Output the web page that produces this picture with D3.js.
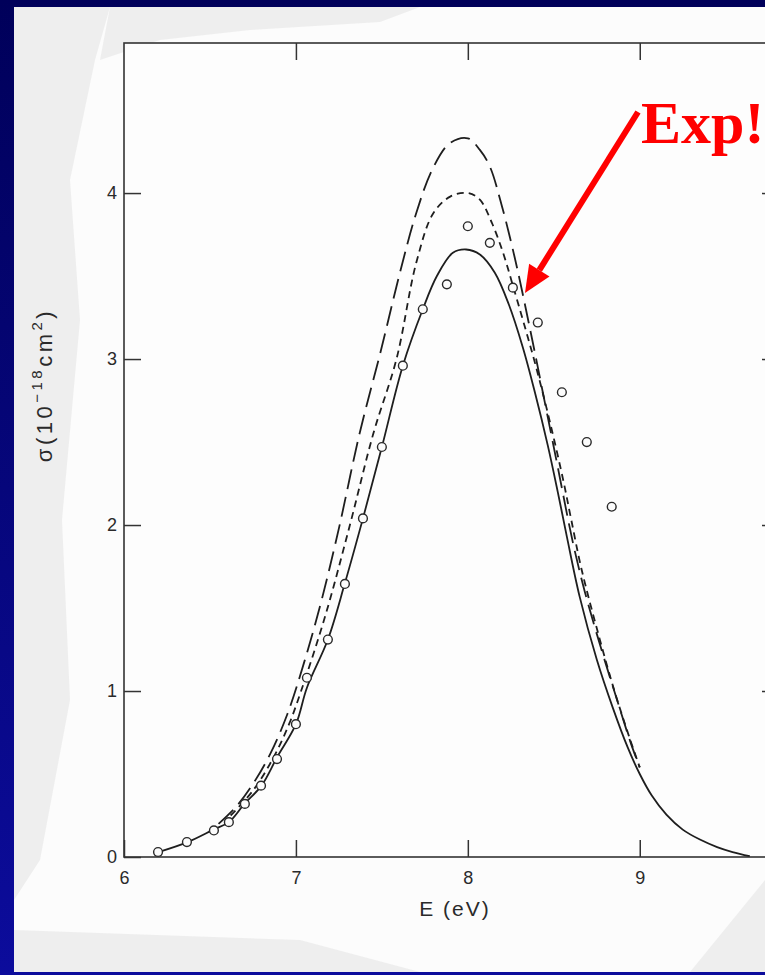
<!DOCTYPE html>
<html>
<head>
<meta charset="utf-8">
<script src="https://cdn.jsdelivr.net/npm/d3@7"></script>
<style>
  html, body { margin: 0; padding: 0; background: #00005a; }
  svg { display: block; }
  .tick text { font-family: "Liberation Sans", Arial, sans-serif; fill: #2a2a2a; }
</style>
</head>
<body>
<div id="main"></div>
<script>
// measured data points (circles)
var expE = [6.198, 6.366, 6.523, 6.61, 6.703, 6.797, 6.89, 7.0, 7.064, 7.186, 7.285, 7.39, 7.50, 7.622, 7.738, 7.878, 8.0, 8.128, 8.262, 8.407, 8.547, 8.692, 8.837];
var expSigma = [0.03, 0.09, 0.16, 0.21, 0.32, 0.43, 0.59, 0.80, 1.08, 1.31, 1.645, 2.04, 2.47, 2.96, 3.30, 3.45, 3.80, 3.70, 3.43, 3.22, 2.80, 2.50, 2.11];

// solid curve
var solidE = [6.2, 6.37, 6.52, 6.61, 6.70, 6.80, 6.89, 7.0, 7.064, 7.186, 7.285, 7.39, 7.50, 7.622, 7.738, 7.82, 7.913, 7.99, 8.07, 8.157, 8.238, 8.32, 8.39, 8.465, 8.523, 8.576, 8.65, 8.75, 8.843, 8.93, 9.0, 9.07, 9.155, 9.25, 9.35, 9.45, 9.54, 9.64];
var solidSigma = [0.03, 0.09, 0.165, 0.21, 0.32, 0.43, 0.60, 0.80, 1.02, 1.31, 1.65, 2.04, 2.47, 2.96, 3.30, 3.50, 3.64, 3.66, 3.63, 3.52, 3.33, 3.07, 2.80, 2.48, 2.20, 1.93, 1.57, 1.19, 0.90, 0.66, 0.50, 0.37, 0.255, 0.165, 0.105, 0.06, 0.03, 0.005];

// short-dashed curve
var shortE = [6.62, 6.75, 6.87, 6.96, 7.03, 7.17, 7.314, 7.45, 7.585, 7.70, 7.80, 7.90, 8.0, 8.07, 8.14, 8.205, 8.26, 8.33, 8.40, 8.48, 8.555, 8.60, 8.66, 8.76, 8.85, 8.94, 9.0];
var shortSigma = [0.25, 0.40, 0.60, 0.80, 1.0, 1.45, 2.0, 2.55, 3.0, 3.58, 3.88, 3.98, 4.0, 3.96, 3.82, 3.64, 3.45, 3.20, 2.94, 2.61, 2.27, 2.04, 1.74, 1.34, 1.01, 0.72, 0.54];

// long-dashed curve
var longE = [6.55, 6.65, 6.75, 6.85, 6.95, 7.05, 7.15, 7.25, 7.37, 7.494, 7.605, 7.70, 7.797, 7.895, 8.0, 8.07, 8.128, 8.196, 8.273, 8.36, 8.465, 8.523, 8.61, 8.68, 8.78, 8.87, 8.95, 9.0];
var longSigma = [0.2, 0.30, 0.44, 0.62, 0.86, 1.18, 1.55, 1.98, 2.55, 3.05, 3.52, 3.88, 4.15, 4.30, 4.33, 4.26, 4.16, 3.93, 3.61, 3.19, 2.65, 2.35, 1.90, 1.60, 1.24, 0.94, 0.68, 0.54];

var xTicks = [6, 7, 8, 9];
var yTicks = [0, 1, 2, 3, 4];

var w = 765;
var h = 975;

var svg = d3.select("#main").append("svg").
attr("width", w).
attr("height", h);

var defs = svg.append("defs");
var grad = defs.append("linearGradient").
attr("id", "frame").
attr("x1", 0).attr("y1", 0).attr("x2", 0).attr("y2", 1);
grad.append("stop").attr("offset", "0%").attr("stop-color", "#00005a");
grad.append("stop").attr("offset", "100%").attr("stop-color", "#0c0c9c");

// blue slide background and the scanned page
svg.append("rect").attr("width", w).attr("height", h).attr("fill", "url(#frame)");
svg.append("rect").
attr("x", 14).attr("y", 7).
attr("width", w - 14).attr("height", 965).
attr("fill", "#fcfcfc");

// greyish scan smudges
var smudges = [
  [[14, 7], [110, 7], [95, 60], [70, 180], [80, 320], [62, 520], [70, 700], [40, 860], [14, 900]],
  [[110, 7], [420, 7], [380, 22], [250, 30], [160, 40], [100, 60]],
  [[14, 930], [300, 940], [420, 972], [14, 972]],
  [[690, 972], [765, 880], [765, 972]]
];
svg.selectAll(".smudge").
data(smudges).
enter().
append("polygon").
attr("class", "smudge").
attr("points", function (d) {return d.map(function (p) {return p.join(",");}).join(" ");}).
attr("fill", "#e8e8e8").
attr("opacity", 0.7);

var x = d3.scaleLinear().domain([6, 9.81]).range([124, 779]);
var y = d3.scaleLinear().domain([0, 4.904]).range([857, 43]);

// plot frame
svg.append("rect").
attr("x", x(6)).attr("y", y(4.904)).
attr("width", x(9.81) - x(6)).attr("height", y(0) - y(4.904)).
attr("fill", "#fdfdfd").
attr("stroke", "#333").
attr("stroke-width", 1.6);

var axBottom = svg.append("g").
attr("transform", "translate(0," + y(0) + ")").
call(d3.axisBottom(x).tickValues(xTicks).tickSizeInner(-17).tickSizeOuter(0).tickPadding(14).tickFormat(d3.format("d")));
var axLeft = svg.append("g").
attr("transform", "translate(" + x(6) + ",0)").
call(d3.axisLeft(y).tickValues(yTicks).tickSizeInner(-17).tickSizeOuter(0).tickPadding(7).tickFormat(d3.format("d")));
var axTop = svg.append("g").
attr("transform", "translate(0," + y(4.904) + ")").
call(d3.axisTop(x).tickValues([7, 8, 9]).tickSizeInner(-17).tickSizeOuter(0).tickFormat(""));
var axRight = svg.append("g").
attr("transform", "translate(" + x(9.81) + ",0)").
call(d3.axisRight(y).tickValues([1, 2, 3, 4]).tickSizeInner(-17).tickSizeOuter(0).tickFormat(""));

[axBottom, axLeft, axTop, axRight].forEach(function (g) {
  g.select(".domain").remove();
  g.selectAll(".tick line").attr("stroke", "#333").attr("stroke-width", 1.5);
});
axBottom.selectAll(".tick text").attr("font-size", 18);
axLeft.selectAll(".tick text").attr("font-size", 18);

// curves
var line = d3.line().
x(function (d) {return x(d[0]);}).
y(function (d) {return y(d[1]);}).
curve(d3.curveCatmullRom.alpha(0.5));

function pairs(a, b) {return a.map(function (v, i) {return [v, b[i]];});}

svg.append("path").
datum(pairs(solidE, solidSigma)).
attr("d", line).
attr("fill", "none").
attr("stroke", "#1e1e1e").
attr("stroke-width", 1.8);

svg.append("path").
datum(pairs(shortE, shortSigma)).
attr("d", line).
attr("fill", "none").
attr("stroke", "#1e1e1e").
attr("stroke-width", 1.8).
attr("stroke-dasharray", "7,5");

svg.append("path").
datum(pairs(longE, longSigma)).
attr("d", line).
attr("fill", "none").
attr("stroke", "#1e1e1e").
attr("stroke-width", 1.8).
attr("stroke-dasharray", "20,8");

svg.selectAll(".pt").
data(pairs(expE, expSigma)).
enter().
append("circle").
attr("class", "pt").
attr("cx", function (d) {return x(d[0]);}).
attr("cy", function (d) {return y(d[1]);}).
attr("r", 4.4).
attr("fill", "#fcfcfc").
attr("stroke", "#2a2a2a").
attr("stroke-width", 1.4);

// axis titles
svg.append("text").
attr("x", 455).
attr("y", 916).
attr("text-anchor", "middle").
attr("font-family", "Liberation Sans, Arial, sans-serif").
attr("font-size", 21).
attr("letter-spacing", 2).
attr("fill", "#2a2a2a").
text("E (eV)");

var ylab = svg.append("text").
attr("transform", "translate(52,385) rotate(-90)").
attr("text-anchor", "middle").
attr("font-family", "Liberation Sans, Arial, sans-serif").
attr("font-size", 22).
attr("letter-spacing", 3.5).
attr("fill", "#2a2a2a");
ylab.append("tspan").text("σ(10");
ylab.append("tspan").attr("dy", -10).attr("font-size", 15).text("−18");
ylab.append("tspan").attr("dy", 10).text("cm");
ylab.append("tspan").attr("dy", -10).attr("font-size", 15).text("2");
ylab.append("tspan").attr("dy", 10).text(")");

// red annotation
svg.append("text").
attr("x", 641).
attr("y", 143).
attr("font-family", "Liberation Serif, Times New Roman, serif").
attr("font-weight", "bold").
attr("font-size", 60).
attr("fill", "#ff0000").
text("Exp!");

var tail = [638, 112];
var tip = [525, 293];
var ang = Math.atan2(tip[1] - tail[1], tip[0] - tail[0]);
var headLen = 27, headHalf = 12;
var bx = tip[0] - headLen * Math.cos(ang), by = tip[1] - headLen * Math.sin(ang);
svg.append("line").
attr("x1", tail[0]).attr("y1", tail[1]).
attr("x2", bx).attr("y2", by).
attr("stroke", "#ff0000").
attr("stroke-width", 6);
svg.append("polygon").
attr("points", [
  tip,
  [bx + headHalf * Math.sin(ang), by - headHalf * Math.cos(ang)],
  [bx - headHalf * Math.sin(ang), by + headHalf * Math.cos(ang)]
].map(function (p) {return p.join(",");}).join(" ")).
attr("fill", "#ff0000");
</script>
</body>
</html>
